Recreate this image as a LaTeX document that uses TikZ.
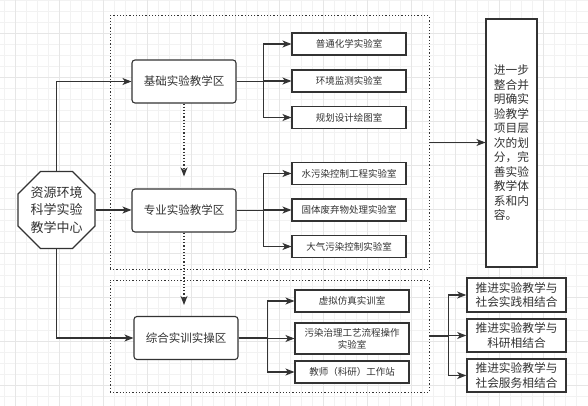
\documentclass[tikz,border=0pt]{standalone}
\usepackage{fontspec}
\setmainfont{Noto Sans CJK SC}
\usetikzlibrary{shapes.geometric,arrows.meta}
\definecolor{ink}{HTML}{333333}
\definecolor{gridlo}{HTML}{F2F2F2}
\definecolor{gridhi}{HTML}{E6E6E6}

\begin{document}
\begin{tikzpicture}[x=1pt,y=-1pt,
	every node/.style={text=ink},
	line/.style={draw=ink,line width=1.1pt},
	arr/.style={line,-{Stealth[length=9pt,width=7pt,inset=2.5pt]}},
	dotarr/.style={arr,dash pattern=on 1.2pt off 2pt},
	area/.style={draw=ink,line width=1pt,dash pattern=on 1.2pt off 2pt,minimum width=319pt},
	zone/.style={line,fill=white,rounded corners=3pt,minimum width=104pt,minimum height=43pt,font=\fontsize{11.5}{13}\selectfont},
	room/.style={line,fill=white,minimum width=114pt,minimum height=22pt,inner sep=1pt,align=center,font=\fontsize{9.5}{12}\selectfont},
	goal/.style={line,line width=1.6pt,fill=white,minimum width=99pt,minimum height=33pt,inner sep=1pt,align=center,font=\fontsize{11.7}{14.3}\selectfont}]
	\useasboundingbox (0,0) rectangle (588,406);
	\fill[white] (0,0) rectangle (588,406);
	\foreach \x in {4.7,15.7,...,587} \draw[gridlo,line width=0.6pt] (\x,0) -- (\x,406);
	\foreach \y in {0.7,11.7,...,405} \draw[gridlo,line width=0.6pt] (0,\y) -- (588,\y);
	\foreach \x in {15.7,59.7,...,587} \draw[gridhi,line width=0.9pt] (\x,0) -- (\x,406);
	\foreach \y in {33.7,77.7,...,405} \draw[gridhi,line width=0.9pt] (0,\y) -- (588,\y);

	\node[area,minimum height=253pt] (area1) at (269.5,142.5) {};
	\node[area,minimum height=112pt] (area2) at (269.5,336) {};

	\node[line,fill=white,regular polygon,regular polygon sides=8,minimum size=83.4pt,inner sep=0pt,align=center,font=\fontsize{13}{17.5}\selectfont] (hub) at (56.5,210) {资源环境\\科学实验\\教学中心};

	\node[zone] (jichu) at (184,81.5) {基础实验教学区};
	\node[zone] (zhuanye) at (184,210.5) {专业实验教学区};
	\node[zone] (zonghe) at (186,338) {综合实训实操区};

	\node[room] (pt) at (349,44) {普通化学实验室};
	\node[room] (hj) at (349,81) {环境监测实验室};
	\node[room] (gh) at (349,117.5) {规划设计绘图室};
	\node[room] (sw) at (349,173.5) {水污染控制工程实验室};
	\node[room] (gt) at (349,210) {固体废弃物处理实验室};
	\node[room] (dq) at (349,246.5) {大气污染控制实验室};
	\node[room] (xn) at (352,301) {虚拟仿真实训室};
	\node[room,minimum height=31pt] (gy) at (352,338.5) {污染治理工艺流程操作\\实验室};
	\node[room] (js) at (352,372) {教师（科研）工作站};

	\node[line,fill=white,minimum width=51pt,minimum height=248pt,inner sep=0pt,align=left,font=\fontsize{11.7}{14.5}\selectfont] (plan) at (511.5,143) {进一步\\整合并\\明确实\\验教学\\项目层\\次的划\\分，完\\善实验\\教学体\\系和内\\容。};

	\node[goal,minimum height=34pt] (sj) at (516.5,295) {推进实验教学与\\社会实践相结合};
	\node[goal] (ky) at (516.5,335.5) {推进实验教学与\\科研相结合};
	\node[goal] (fw) at (516.5,375.5) {推进实验教学与\\社会服务相结合};

	\draw[arr] (hub.north) |- (jichu.west);
	\draw[arr] (hub.east) -- (hub.east -| zhuanye.west);
	\draw[arr] (hub.south) |- (zonghe.west);
	\draw[dotarr,shorten >=12pt] (jichu.south) -- (zhuanye.north);
	\draw[dotarr,shorten >=11pt] (zhuanye.south) -- (zhuanye.south |- zonghe.north);

	\foreach \r in {pt,hj,gh} \draw[arr] (jichu.east) -- ++(27,0) |- (\r.west);
	\foreach \r in {sw,gt,dq} \draw[arr] (zhuanye.east) -- ++(27,0) |- (\r.west);
	\foreach \r in {xn,gy,js} \draw[arr] (zonghe.east) -- ++(29,0) |- (\r.west);

	\draw[arr] (area1.east) -- (area1.east -| plan.west);
	\foreach \g in {sj,ky,fw} \draw[arr] (area2.east) -- ++(19,0) |- (\g.west);
\end{tikzpicture}
\end{document}
